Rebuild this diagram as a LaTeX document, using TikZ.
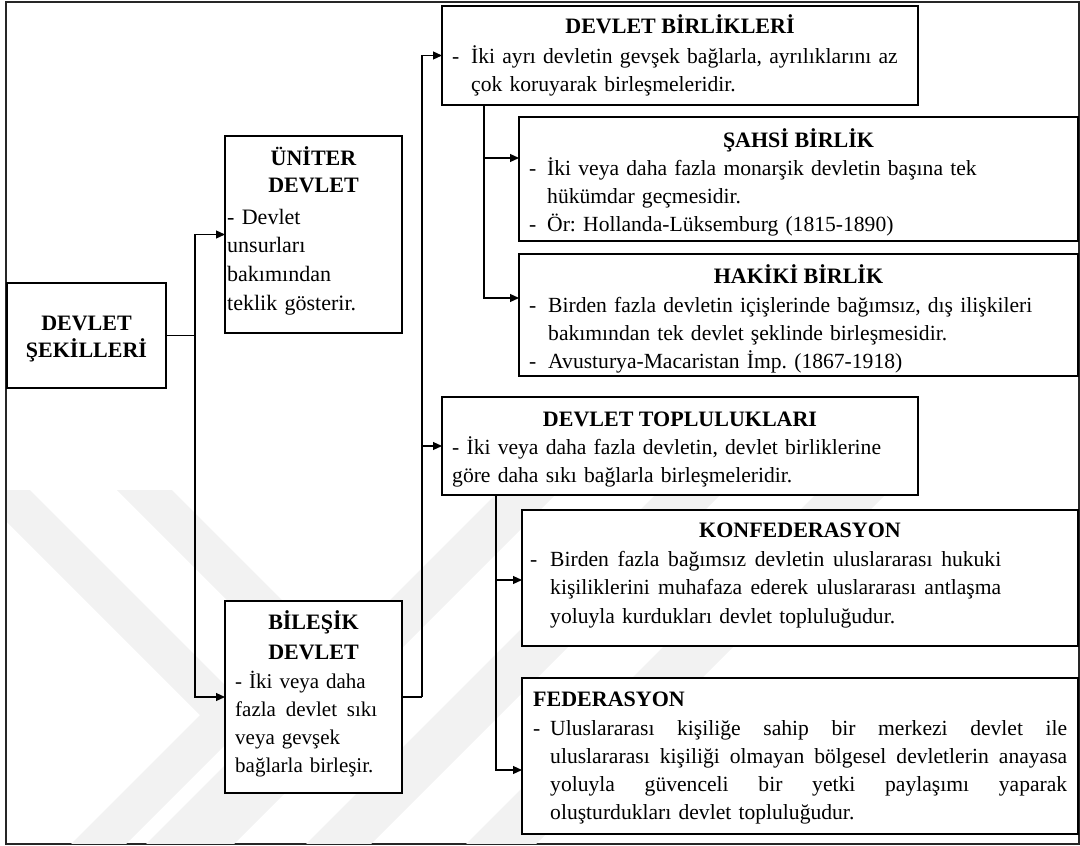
\documentclass[tikz,border=0pt]{standalone}
\usepackage{fontspec}
\setmainfont{Liberation Serif}
\usetikzlibrary{arrows.meta,calc}

% width of the dash column in the item lists
\newlength{\hangw}
\newcommand{\dsh}{\makebox[\hangw][l]{-}}
\newcommand{\ind}{\hspace*{\hangw}}
% a line spread out to a fixed width (equal gaps between words)
\newcommand{\jline}[2]{\hbox to #1{\spaceskip=0.25em plus 1fil\relax #2}}

\begin{document}
\frenchspacing
\begin{tikzpicture}[x=1pt,y=-1pt,
  frame/.style={draw=black!85, line width=2pt},
  wm/.style={fill=black!5, draw=none},
  box/.style={draw=black, line width=1.8pt, fill=white, anchor=north west,
    inner sep=0pt, outer sep=0pt},
  hd/.style={anchor=base, inner sep=0pt, align=center,
    font=\bfseries\fontsize{22}{27.5}\selectfont},
  txt/.style={anchor=base west, inner sep=0pt, text width=#1, align=left,
    font=\fontsize{21.6}{28.4}\selectfont},
  conn/.style={draw=black, line width=1.2pt},
  arr/.style={conn, -{Triangle[length=9pt,width=8pt]}}
]
\useasboundingbox (0,0) rectangle (1080,846);

% outer frame
\draw[frame] (6,2) rectangle (1079,844);

% faint background chevrons
\begin{scope}
  \clip (7,488) rectangle (1078,843);
  \fill[wm] (30,490) -- (255,715) -- (124,846) -- (69,846) -- (200,715) -- (-25,490) -- cycle;
  \fill[wm] (172,490) -- (380,698) -- (232,846) -- (177,846) -- (325,698) -- (117,490) -- cycle;
  \fill[wm] (502,488) -- (562,488) -- (204,846) -- (144,846) -- cycle;
  \fill[wm] (662,488) -- (727,488) -- (369,846) -- (304,846) -- cycle;
  \fill[wm] (822,488) -- (892,488) -- (534,846) -- (464,846) -- cycle;
\end{scope}

% boxes
\node[box, minimum width=159pt, minimum height=105pt] (ds)  at (7,283)   {};
\node[box, minimum width=177pt, minimum height=197pt] (un)  at (225,136) {};
\node[box, minimum width=177pt, minimum height=192pt] (bl)  at (225,601) {};
\node[box, minimum width=476pt, minimum height=99pt]  (db)  at (442,6)   {};
\node[box, minimum width=559pt, minimum height=124pt] (sah) at (519,117) {};
\node[box, minimum width=559pt, minimum height=122pt] (hak) at (519,254) {};
\node[box, minimum width=476pt, minimum height=98pt]  (dt)  at (442,397) {};
\node[box, minimum width=556pt, minimum height=136pt] (kon) at (522,510) {};
\node[box, minimum width=556pt, minimum height=156pt] (fed) at (522,678) {};

% connectors
\coordinate (j1) at (195,335.5);
\draw[conn] (ds.east) -- (j1);
\draw[arr] (j1) |- (un.west);
\draw[arr] (j1) |- (bl.west);

\coordinate (j2) at (422,697);
\draw[conn] (bl.east) -- (j2);
\draw[arr] (j2) |- (db.west);
\draw[arr] (j2) |- (dt.west);

\coordinate (b1) at ($(db.south west)+(42,0)$);
\draw[arr] (b1) |- ($(sah.north west)+(0,41)$);
\draw[arr] (b1) |- ($(hak.north west)+(0,44)$);

\coordinate (b2) at ($(dt.south west)+(54,0)$);
\draw[arr] (b2) |- ($(kon.north west)+(0,70)$);
\draw[arr] (b2) |- ($(fed.north west)+(0,92)$);

% texts
\node[hd, text width=159pt] (ds-h) at (86.5,330) {DEVLET\\ŞEKİLLERİ};

\node[hd, text width=177pt, font=\bfseries\fontsize{22}{27}\selectfont] (un-h) at (313.5,165) {ÜNİTER\\DEVLET};
\node[txt=172pt, font=\fontsize{22}{28.7}\selectfont] (un-t) at (227,224)
  {- Devlet\newline unsurları\newline bakımından\newline teklik gösterir.};

\node[hd, text width=177pt, font=\bfseries\fontsize{22}{30}\selectfont] (bl-h) at (313.5,629) {BİLEŞİK\\DEVLET};
\node[txt=172pt, font=\fontsize{21}{28.3}\selectfont] (bl-t) at (235,688)
  {- İki veya daha\newline \jline{142pt}{fazla devlet sıkı}\newline veya gevşek\newline bağlarla birleşir.};

\node[hd] (db-h) at (680,33) {DEVLET BİRLİKLERİ};
\node[txt=460pt, font=\fontsize{21.6}{28}\selectfont] (db-t) at (452,63)
  {\setlength{\hangw}{19pt}\dsh İki ayrı devletin gevşek bağlarla, ayrılıklarını az\newline
   \ind çok koruyarak birleşmeleridir.};

\node[hd] (sah-h) at (798.5,147) {ŞAHSİ BİRLİK};
\node[txt=540pt] (sah-t) at (529,175)
  {\setlength{\hangw}{18pt}\dsh İki veya daha fazla monarşik devletin başına tek\newline
   \ind hükümdar geçmesidir.\newline
   \dsh Ör: Hollanda-Lüksemburg (1815-1890)};

\node[hd] (hak-h) at (798.5,283) {HAKİKİ BİRLİK};
\node[txt=540pt, font=\fontsize{21.6}{28}\selectfont] (hak-t) at (529,312)
  {\setlength{\hangw}{19pt}\dsh Birden fazla devletin içişlerinde bağımsız, dış ilişkileri\newline
   \ind bakımından tek devlet şeklinde birleşmesidir.\newline
   \dsh Avusturya-Macaristan İmp. (1867-1918)};

\node[hd] (dt-h) at (680,426) {DEVLET TOPLULUKLARI};
\node[txt=460pt, font=\fontsize{21.6}{28}\selectfont] (dt-t) at (452,454)
  {- İki veya daha fazla devletin, devlet birliklerine\newline
   göre daha sıkı bağlarla birleşmeleridir.};

\node[hd] (kon-h) at (800,537) {KONFEDERASYON};
\node[txt=540pt, font=\fontsize{21.6}{28.5}\selectfont] (kon-t) at (530,566)
  {\setlength{\hangw}{20pt}\dsh \jline{451pt}{Birden fazla bağımsız devletin uluslararası hukuki}\newline
   \ind \jline{451pt}{kişiliklerini muhafaza ederek uluslararası antlaşma}\newline
   \ind yoluyla kurdukları devlet topluluğudur.};

\node[hd, anchor=base west] (fed-h) at (533,706) {FEDERASYON};
\node[txt=540pt, font=\fontsize{21.6}{28.2}\selectfont] (fed-t) at (533,735)
  {\setlength{\hangw}{17pt}\dsh \jline{517pt}{Uluslararası kişiliğe sahip bir merkezi devlet ile}\newline
   \ind \jline{517pt}{uluslararası kişiliği olmayan bölgesel devletlerin anayasa}\newline
   \ind \jline{517pt}{yoluyla güvenceli bir yetki paylaşımı yaparak}\newline
   \ind oluşturdukları devlet topluluğudur.};
\end{tikzpicture}
\end{document}
